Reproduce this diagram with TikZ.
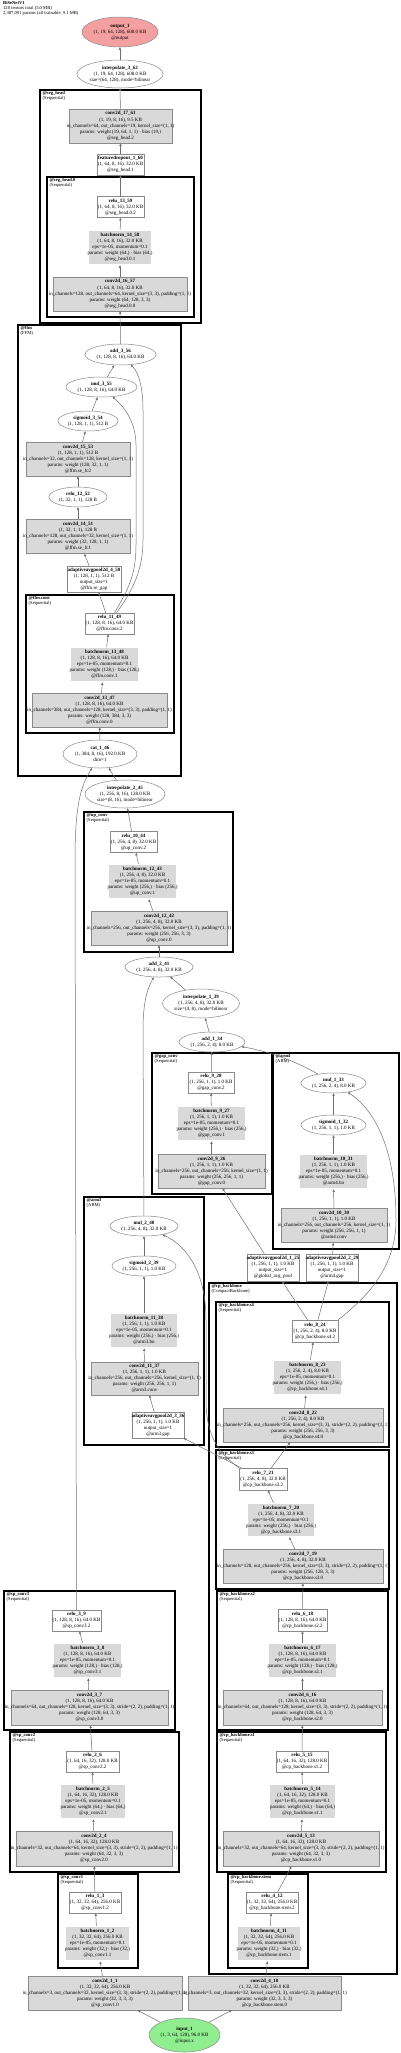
\documentclass[tikz,border=0pt]{standalone}
\usepackage{fontspec}
\setmainfont{Liberation Serif}
\usetikzlibrary{arrows.meta,shapes.geometric}
\definecolor{edgec}{HTML}{707070}
\definecolor{bordc}{HTML}{8A8A8A}
\definecolor{fillg}{HTML}{D9D9D9}
\definecolor{outc}{HTML}{F4A0A0}
\definecolor{inc}{HTML}{90EE90}
\newcommand{\nd}[7]{\node[#1,minimum width=#4pt,minimum height=#5pt,label={[lbl]center:{#7}}] (#6) at (#2,#3) {};}
\begin{document}
\begin{tikzpicture}[x=1pt,y=-1pt,
  lbl/.style={inner sep=0pt,align=center,font=\fontsize{5}{6.1}\selectfont},
  op/.style={rectangle,draw=bordc,line width=0.5pt,fill=white,inner sep=0pt},
  gop/.style={op,fill=fillg},
  bnop/.style={op,fill=fillg,double=white,double distance=1.2pt},
  ell/.style={ellipse,draw=bordc,line width=0.5pt,fill=white,inner sep=0pt},
  cl1/.style={draw=black,line width=1.6pt},
  cl2/.style={draw=black,line width=1.1pt},
  cll/.style={anchor=north west,align=left,inner sep=0pt,font=\fontsize{4.6}{4.9}\selectfont},
  conn/.style={draw=edgec,line width=0.5pt,-{Triangle[length=2.6pt,width=2.2pt]}}]
\useasboundingbox (0,0) rectangle (400,2053);
\fill[white] (0,0) rectangle (400,2053);
% title
\node[cll] (title) at (3,1.5) {\textbf{BiSeNetV1}\\120 tensors total (5.0 MB)\\2,387,091 params (all trainable, 9.1 MB)};
% clusters
\draw[cl1] (40,90) rectangle (201,323);
\node[cll] (Lseghead) at (42.5,91.5) {\textbf{@seg\_head}\\(Sequential)};
\draw[cl2] (47,177) rectangle (194,317);
\node[cll] (Lseghead0) at (49.5,178.5) {\textbf{@seg\_head.0}\\(Sequential)};
\draw[cl1] (18,325) rectangle (181,776);
\node[cll] (Lffm) at (20.5,326.5) {\textbf{@ffm}\\(FFM)};
\draw[cl2] (26,595) rectangle (174,733);
\node[cll] (Lffmconv) at (28.5,596.5) {\textbf{@ffm.conv}\\(Sequential)};
\draw[cl1] (84,812) rectangle (233,952);
\node[cll] (Lupconv) at (86.5,813.5) {\textbf{@up\_conv}\\(Sequential)};
\draw[cl1] (152,1053) rectangle (272,1194);
\node[cll] (Lgapconv) at (154.5,1054.5) {\textbf{@gap\_conv}\\(Sequential)};
\draw[cl1] (273,1053) rectangle (399,1249);
\node[cll] (Larm4) at (275.5,1054.5) {\textbf{@arm4}\\(ARM)};
\draw[cl1] (84,1197) rectangle (204,1445);
\node[cll] (Larm3) at (86.5,1198.5) {\textbf{@arm3}\\(ARM)};
\draw[cl1] (209,1283) rectangle (397,1974);
\node[cll] (Lcp) at (211.5,1284.5) {\textbf{@cp\_backbone}\\(CompactBackbone)};
\draw[cl2] (216,1302) rectangle (389,1447);
\node[cll] (Lcps4) at (218.5,1303.5) {\textbf{@cp\_backbone.s4}\\(Sequential)};
\draw[cl2] (216,1450) rectangle (389,1589);
\node[cll] (Lcps3) at (218.5,1451.5) {\textbf{@cp\_backbone.s3}\\(Sequential)};
\draw[cl2] (217,1591) rectangle (388,1730);
\node[cll] (Lcps2) at (219.5,1592.5) {\textbf{@cp\_backbone.s2}\\(Sequential)};
\draw[cl2] (217,1732) rectangle (386,1872);
\node[cll] (Lcps1) at (219.5,1733.5) {\textbf{@cp\_backbone.s1}\\(Sequential)};
\draw[cl2] (228,1874) rectangle (308,1968);
\node[cll] (Lcpstem) at (230.5,1875.5) {\textbf{@cp\_backbone.stem}\\(Sequential)};
\draw[cl1] (4,1591) rectangle (175,1730);
\node[cll] (Lsp3) at (6.5,1592.5) {\textbf{@sp\_conv3}\\(Sequential)};
\draw[cl1] (10,1732) rectangle (179,1872);
\node[cll] (Lsp2) at (12.5,1733.5) {\textbf{@sp\_conv2}\\(Sequential)};
\draw[cl1] (58,1874) rectangle (138,1968);
\node[cll] (Lsp1) at (60.5,1875.5) {\textbf{@sp\_conv1}\\(Sequential)};
% nodes
\nd{ell,fill=outc}{120}{32}{76}{30}{out1}{\textbf{output\_1}\\(1, 19, 64, 128), 608.0 KB\\@output}
\nd{ell}{120}{74}{86}{28}{i362}{\textbf{interpolate\_3\_62}\\(1, 19, 64, 128), 608.0 KB\\size=(64, 128), mode=bilinear}
\nd{gop}{120.5}{126}{103}{34}{c1761}{\textbf{conv2d\_17\_61}\\(1, 19, 8, 16), 9.5 KB\\in\_channels=64, out\_channels=19, kernel\_size=(1, 1)\\params: weight (19, 64, 1, 1) · bias (19,)\\@seg\_head.2}
\nd{op}{120.5}{164.5}{47}{21}{fd160}{\textbf{featuredropout\_1\_60}\\(1, 64, 8, 16), 32.0 KB\\@seg\_head.1}
\nd{op}{120.5}{207}{47}{21}{r1359}{\textbf{relu\_13\_59}\\(1, 64, 8, 16), 32.0 KB\\@seg\_head.0.2}
\nd{bnop}{120}{247.5}{64}{35}{bn1458}{\textbf{batchnorm\_14\_58}\\(1, 64, 8, 16), 32.0 KB\\eps=1e-05, momentum=0.1\\params: weight (64,) · bias (64,)\\@seg\_head.0.1}
\nd{gop}{120}{294}{134}{34}{c1657}{\textbf{conv2d\_16\_57}\\(1, 64, 8, 16), 32.0 KB\\in\_channels=128, out\_channels=64, kernel\_size=(3, 3), padding=(1, 1)\\params: weight (64, 128, 3, 3)\\@seg\_head.0.0}
\nd{ell}{120.5}{354.5}{71}{21}{a356}{\textbf{add\_3\_56}\\(1, 128, 8, 16), 64.0 KB}
\nd{ell}{101.5}{387}{71}{20}{m355}{\textbf{mul\_3\_55}\\(1, 128, 8, 16), 64.0 KB}
\nd{ell}{88}{421}{60}{20}{s354}{\textbf{sigmoid\_3\_54}\\(1, 128, 1, 1), 512 B}
\nd{gop}{78}{459}{104}{34}{c1553}{\textbf{conv2d\_15\_53}\\(1, 128, 1, 1), 512 B\\in\_channels=32, out\_channels=128, kernel\_size=(1, 1)\\params: weight (128, 32, 1, 1)\\@ffm.se\_fc2}
\nd{ell}{78}{497}{58}{20}{r1252}{\textbf{relu\_12\_52}\\(1, 32, 1, 1), 128 B}
\nd{gop}{78}{536.5}{104}{34}{c1451}{\textbf{conv2d\_14\_51}\\(1, 32, 1, 1), 128 B\\in\_channels=128, out\_channels=32, kernel\_size=(1, 1)\\params: weight (32, 128, 1, 1)\\@ffm.se\_fc1}
\nd{op}{94}{579}{54}{26}{p450}{\textbf{adaptiveavgpool2d\_4\_50}\\(1, 128, 1, 1), 512 B\\output\_size=1\\@ffm.se\_gap}
\nd{op}{109.5}{623.5}{49}{21}{r1149}{\textbf{relu\_11\_49}\\(1, 128, 8, 16), 64.0 KB\\@ffm.conv.2}
\nd{bnop}{104.5}{664.5}{69}{35}{bn1348}{\textbf{batchnorm\_13\_48}\\(1, 128, 8, 16), 64.0 KB\\eps=1e-05, momentum=0.1\\params: weight (128,) · bias (128,)\\@ffm.conv.1}
\nd{gop}{99.5}{710}{135}{34}{c1347}{\textbf{conv2d\_13\_47}\\(1, 128, 8, 16), 64.0 KB\\in\_channels=384, out\_channels=128, kernel\_size=(3, 3), padding=(1, 1)\\params: weight (128, 384, 3, 3)\\@ffm.conv.0}
\nd{ell}{100}{754}{74}{28}{cat146}{\textbf{cat\_1\_46}\\(1, 384, 8, 16), 192.0 KB\\dim=1}
\nd{ell}{125}{794}{80}{28}{i245}{\textbf{interpolate\_2\_45}\\(1, 256, 8, 16), 128.0 KB\\size=(8, 16), mode=bilinear}
\nd{op}{133.5}{842}{47}{21}{r1044}{\textbf{relu\_10\_44}\\(1, 256, 4, 8), 32.0 KB\\@up\_conv.2}
\nd{bnop}{142.5}{881.5}{69}{35}{bn1243}{\textbf{batchnorm\_12\_43}\\(1, 256, 4, 8), 32.0 KB\\eps=1e-05, momentum=0.1\\params: weight (256,) · bias (256,)\\@up\_conv.1}
\nd{gop}{159}{928}{136}{34}{c1242}{\textbf{conv2d\_12\_42}\\(1, 256, 4, 8), 32.0 KB\\in\_channels=256, out\_channels=256, kernel\_size=(3, 3), padding=(1, 1)\\params: weight (256, 256, 3, 3)\\@up\_conv.0}
\nd{ell}{159}{967}{68}{20}{a241}{\textbf{add\_2\_41}\\(1, 256, 4, 8), 32.0 KB}
\nd{ell}{201}{1003.5}{77}{29}{i139}{\textbf{interpolate\_1\_39}\\(1, 256, 4, 8), 32.0 KB\\size=(4, 8), mode=bilinear}
\nd{ell}{212}{1042}{66}{20}{a134}{\textbf{add\_1\_34}\\(1, 256, 2, 4), 8.0 KB}
\nd{op}{211}{1082.5}{46}{21}{r928}{\textbf{relu\_9\_28}\\(1, 256, 1, 1), 1.0 KB\\@gap\_conv.2}
\nd{bnop}{211.5}{1123.5}{69}{35}{bn927}{\textbf{batchnorm\_9\_27}\\(1, 256, 1, 1), 1.0 KB\\eps=1e-05, momentum=0.1\\params: weight (256,) · bias (256,)\\@gap\_conv.1}
\nd{gop}{211.5}{1171}{107}{34}{c926}{\textbf{conv2d\_9\_26}\\(1, 256, 1, 1), 1.0 KB\\in\_channels=256, out\_channels=256, kernel\_size=(1, 1)\\params: weight (256, 256, 1, 1)\\@gap\_conv.0}
\nd{ell}{333.5}{1083}{65}{20}{m133}{\textbf{mul\_1\_33}\\(1, 256, 2, 4), 8.0 KB}
\nd{ell}{333.5}{1125}{65}{20}{s132}{\textbf{sigmoid\_1\_32}\\(1, 256, 1, 1), 1.0 KB}
\nd{bnop}{333.5}{1171.5}{69}{35}{bn1031}{\textbf{batchnorm\_10\_31}\\(1, 256, 1, 1), 1.0 KB\\eps=1e-05, momentum=0.1\\params: weight (256,) · bias (256,)\\@arm4.bn}
\nd{gop}{334}{1225.5}{106}{34}{c1030}{\textbf{conv2d\_10\_30}\\(1, 256, 1, 1), 1.0 KB\\in\_channels=256, out\_channels=256, kernel\_size=(1, 1)\\params: weight (256, 256, 1, 1)\\@arm4.conv}
\nd{op}{273}{1267.5}{52}{27}{p125}{\textbf{adaptiveavgpool2d\_1\_25}\\(1, 256, 1, 1), 1.0 KB\\output\_size=1\\@global\_avg\_pool}
\nd{op}{332}{1267.5}{52}{27}{p229}{\textbf{adaptiveavgpool2d\_2\_29}\\(1, 256, 1, 1), 1.0 KB\\output\_size=1\\@arm4.gap}
\nd{ell}{144}{1226}{68}{20}{m240}{\textbf{mul\_2\_40}\\(1, 256, 4, 8), 32.0 KB}
\nd{ell}{144}{1266}{64}{20}{s239}{\textbf{sigmoid\_2\_39}\\(1, 256, 1, 1), 1.0 KB}
\nd{bnop}{144}{1330.5}{68}{35}{bn1138}{\textbf{batchnorm\_11\_38}\\(1, 256, 1, 1), 1.0 KB\\eps=1e-05, momentum=0.1\\params: weight (256,) · bias (256,)\\@arm3.bn}
\nd{gop}{144.5}{1378.5}{107}{33}{c1137}{\textbf{conv2d\_11\_37}\\(1, 256, 1, 1), 1.0 KB\\in\_channels=256, out\_channels=256, kernel\_size=(1, 1)\\params: weight (256, 256, 1, 1)\\@arm3.conv}
\nd{op}{158}{1425}{52}{26}{p336}{\textbf{adaptiveavgpool2d\_3\_36}\\(1, 256, 1, 1), 1.0 KB\\output\_size=1\\@arm3.gap}
\nd{op}{315}{1331}{46}{22}{r824}{\textbf{relu\_8\_24}\\(1, 256, 2, 4), 8.0 KB\\@cp\_backbone.s4.2}
\nd{bnop}{307.5}{1377.5}{69}{35}{bn823}{\textbf{batchnorm\_8\_23}\\(1, 256, 2, 4), 8.0 KB\\eps=1e-05, momentum=0.1\\params: weight (256,) · bias (256,)\\@cp\_backbone.s4.1}
\nd{gop}{303}{1425}{160}{34}{c822}{\textbf{conv2d\_8\_22}\\(1, 256, 2, 4), 8.0 KB\\in\_channels=256, out\_channels=256, kernel\_size=(3, 3), stride=(2, 2), padding=(1, 1)\\params: weight (256, 256, 3, 3)\\@cp\_backbone.s4.0}
\nd{op}{263}{1479}{48}{22}{r721}{\textbf{relu\_7\_21}\\(1, 256, 4, 8), 32.0 KB\\@cp\_backbone.s3.2}
\nd{bnop}{281}{1520}{68}{34}{bn720}{\textbf{batchnorm\_7\_20}\\(1, 256, 4, 8), 32.0 KB\\eps=1e-05, momentum=0.1\\params: weight (256,) · bias (256,)\\@cp\_backbone.s3.1}
\nd{gop}{303}{1566}{160}{34}{c719}{\textbf{conv2d\_7\_19}\\(1, 256, 4, 8), 32.0 KB\\in\_channels=128, out\_channels=256, kernel\_size=(3, 3), stride=(2, 2), padding=(1, 1)\\params: weight (256, 128, 3, 3)\\@cp\_backbone.s3.0}
\nd{op}{302.5}{1620}{49}{22}{r618}{\textbf{relu\_6\_18}\\(1, 128, 8, 16), 64.0 KB\\@cp\_backbone.s2.2}
\nd{bnop}{302.5}{1660.5}{69}{35}{bn617}{\textbf{batchnorm\_6\_17}\\(1, 128, 8, 16), 64.0 KB\\eps=1e-05, momentum=0.1\\params: weight (128,) · bias (128,)\\@cp\_backbone.s2.1}
\nd{gop}{302.5}{1707.5}{159}{35}{c616}{\textbf{conv2d\_6\_16}\\(1, 128, 8, 16), 64.0 KB\\in\_channels=64, out\_channels=128, kernel\_size=(3, 3), stride=(2, 2), padding=(1, 1)\\params: weight (128, 64, 3, 3)\\@cp\_backbone.s2.0}
\nd{op}{76.5}{1620.5}{49}{21}{r39}{\textbf{relu\_3\_9}\\(1, 128, 8, 16), 64.0 KB\\@sp\_conv3.2}
\nd{bnop}{87.5}{1660.5}{69}{35}{bn38}{\textbf{batchnorm\_3\_8}\\(1, 128, 8, 16), 64.0 KB\\eps=1e-05, momentum=0.1\\params: weight (128,) · bias (128,)\\@sp\_conv3.1}
\nd{gop}{89.5}{1707.5}{157}{35}{c37}{\textbf{conv2d\_3\_7}\\(1, 128, 8, 16), 64.0 KB\\in\_channels=64, out\_channels=128, kernel\_size=(3, 3), stride=(2, 2), padding=(1, 1)\\params: weight (128, 64, 3, 3)\\@sp\_conv3.0}
\nd{op}{92.5}{1761.5}{53}{21}{r26}{\textbf{relu\_2\_6}\\(1, 64, 16, 32), 128.0 KB\\@sp\_conv2.2}
\nd{bnop}{93}{1801.5}{66}{35}{bn25}{\textbf{batchnorm\_2\_5}\\(1, 64, 16, 32), 128.0 KB\\eps=1e-05, momentum=0.1\\params: weight (64,) · bias (64,)\\@sp\_conv2.1}
\nd{gop}{94}{1848.5}{156}{35}{c24}{\textbf{conv2d\_2\_4}\\(1, 64, 16, 32), 128.0 KB\\in\_channels=32, out\_channels=64, kernel\_size=(3, 3), stride=(2, 2), padding=(1, 1)\\params: weight (64, 32, 3, 3)\\@sp\_conv2.0}
\nd{op}{302}{1761.5}{52}{21}{r515}{\textbf{relu\_5\_15}\\(1, 64, 16, 32), 128.0 KB\\@cp\_backbone.s1.2}
\nd{bnop}{302.5}{1801.5}{67}{35}{bn514}{\textbf{batchnorm\_5\_14}\\(1, 64, 16, 32), 128.0 KB\\eps=1e-05, momentum=0.1\\params: weight (64,) · bias (64,)\\@cp\_backbone.s1.1}
\nd{gop}{301}{1848.5}{156}{35}{c513}{\textbf{conv2d\_5\_13}\\(1, 64, 16, 32), 128.0 KB\\in\_channels=32, out\_channels=64, kernel\_size=(3, 3), stride=(2, 2), padding=(1, 1)\\params: weight (64, 32, 3, 3)\\@cp\_backbone.s1.0}
\nd{op}{95}{1902.5}{52}{21}{r13}{\textbf{relu\_1\_3}\\(1, 32, 32, 64), 256.0 KB\\@sp\_conv1.2}
\nd{bnop}{97.5}{1943.5}{65}{35}{bn12}{\textbf{batchnorm\_1\_2}\\(1, 32, 32, 64), 256.0 KB\\eps=1e-05, momentum=0.1\\params: weight (32,) · bias (32,)\\@sp\_conv1.1}
\nd{op}{272}{1902.5}{52}{21}{r412}{\textbf{relu\_4\_12}\\(1, 32, 32, 64), 256.0 KB\\@cp\_backbone.stem.2}
\nd{bnop}{269}{1943.5}{64}{35}{bn411}{\textbf{batchnorm\_4\_11}\\(1, 32, 32, 64), 256.0 KB\\eps=1e-05, momentum=0.1\\params: weight (32,) · bias (32,)\\@cp\_backbone.stem.1}
\nd{gop}{105}{1993}{154}{34}{c11}{\textbf{conv2d\_1\_1}\\(1, 32, 32, 64), 256.0 KB\\in\_channels=3, out\_channels=32, kernel\_size=(3, 3), stride=(2, 2), padding=(1, 1)\\params: weight (32, 3, 3, 3)\\@sp\_conv1.0}
\nd{gop}{264.5}{1993}{153}{34}{c410}{\textbf{conv2d\_4\_10}\\(1, 32, 32, 64), 256.0 KB\\in\_channels=3, out\_channels=32, kernel\_size=(3, 3), stride=(2, 2), padding=(1, 1)\\params: weight (32, 3, 3, 3)\\@cp\_backbone.stem.0}
\nd{ell,fill=inc}{184.5}{2035}{71}{34}{in1}{\textbf{input\_1}\\(1, 3, 64, 128), 96.0 KB\\@input.x}
% edges
\draw[conn] (in1) -- (c11);
\draw[conn] (in1) -- (c410);
\draw[conn] (c11) -- (bn12);
\draw[conn] (bn12) -- (r13);
\draw[conn] (r13) -- (c24);
\draw[conn] (c24) -- (bn25);
\draw[conn] (bn25) -- (r26);
\draw[conn] (r26) -- (c37);
\draw[conn] (c37) -- (bn38);
\draw[conn] (bn38) -- (r39);
\draw[conn] (r39.north) -- (75,860) .. controls (75,800) and (82,785) .. (cat146);
\draw[conn] (c410) -- (bn411);
\draw[conn] (bn411) -- (r412);
\draw[conn] (r412) -- (c513);
\draw[conn] (c513) -- (bn514);
\draw[conn] (bn514) -- (r515);
\draw[conn] (r515) -- (c616);
\draw[conn] (c616) -- (bn617);
\draw[conn] (bn617) -- (r618);
\draw[conn] (r618) -- (c719);
\draw[conn] (c719) -- (bn720);
\draw[conn] (bn720) -- (r721);
\draw[conn] (r721) -- (c822);
\draw[conn] (r721) -- (p336);
\draw[conn] (r721.north west) .. controls (222,1455) and (206,1440) .. (206,1400) -- (206,1320) .. controls (206,1270) and (185,1245) .. (m240);
\draw[conn] (c822) -- (bn823);
\draw[conn] (bn823) -- (r824);
\draw[conn] (r824) -- (p125);
\draw[conn] (r824) -- (p229);
\draw[conn] (r824.north east) .. controls (370,1295) and (396,1265) .. (396,1220) .. controls (396,1150) and (375,1110) .. (m133);
\draw[conn] (p125) -- (c926);
\draw[conn] (c926) -- (bn927);
\draw[conn] (bn927) -- (r928);
\draw[conn] (r928) -- (a134);
\draw[conn] (p229) -- (c1030);
\draw[conn] (c1030) -- (bn1031);
\draw[conn] (bn1031) -- (s132);
\draw[conn] (s132) -- (m133);
\draw[conn] (m133) .. controls (290,1058) and (262,1050) .. (a134);
\draw[conn] (a134) -- (i139);
\draw[conn] (i139) -- (a241);
\draw[conn] (p336) -- (c1137);
\draw[conn] (c1137) -- (bn1138);
\draw[conn] (bn1138) -- (s239);
\draw[conn] (s239) -- (m240);
\draw[conn] (m240) -- (143,1030) .. controls (143,1000) and (148,988) .. (a241);
\draw[conn] (a241) -- (c1242);
\draw[conn] (c1242) -- (bn1243);
\draw[conn] (bn1243) -- (r1044);
\draw[conn] (r1044) -- (i245);
\draw[conn] (i245) -- (cat146);
\draw[conn] (cat146) -- (c1347);
\draw[conn] (c1347) -- (bn1348);
\draw[conn] (bn1348) -- (r1149);
\draw[conn] (r1149) -- (p450);
\draw[conn] (p450) -- (c1451);
\draw[conn] (c1451) -- (r1252);
\draw[conn] (r1252) -- (c1553);
\draw[conn] (c1553) -- (s354);
\draw[conn] (s354) -- (m355);
\draw[conn] (m355) -- (a356);
\draw[conn] ([xshift=5pt]r1149.north) .. controls (128,590) and (136,575) .. (136,545) -- (136,445) .. controls (136,420) and (122,405) .. (m355);
\draw[conn] ([xshift=7pt]r1149.north) .. controls (133,590) and (143,570) .. (143,540) -- (143,410) .. controls (143,385) and (138,372) .. (a356);
\draw[conn] (a356) -- (c1657);
\draw[conn] (c1657) -- (bn1458);
\draw[conn] (bn1458) -- (r1359);
\draw[conn] (r1359) -- (fd160);
\draw[conn] (fd160) -- (c1761);
\draw[conn] (c1761) -- (i362);
\draw[conn] (i362) -- (out1);
\end{tikzpicture}
\end{document}
